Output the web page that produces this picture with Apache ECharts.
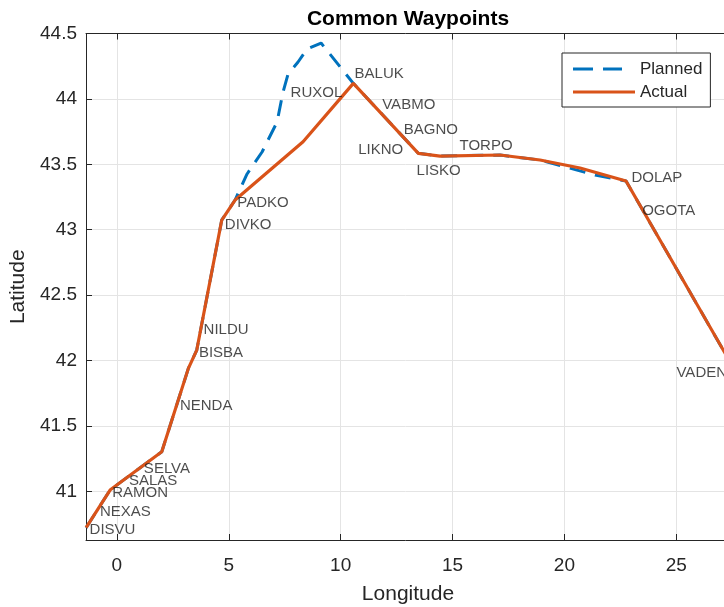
<!DOCTYPE html>
<html>
<head>
<meta charset="utf-8">
<title>Common Waypoints</title>
<script src="https://cdn.jsdelivr.net/npm/echarts@6/dist/echarts.min.js"></script>
<style>
html, body { margin: 0; padding: 0; background: #fff; }
#chart { width: 724px; height: 607px; }
</style>
</head>
<body>
<div id="chart"></div>
<script>
// planned route (lon, lat)
const plannedLon = [-1.376, -0.304, 2.006, 3.195, 3.570, 4.687, 5.282, 5.818, 6.488, 7.158, 7.426, 7.650, 8.097, 8.499, 9.125, 10.567, 13.472, 14.441, 17.122, 18.910, 21.370, 22.753, 27.40];
const plannedLat = [40.722, 41.010, 41.303, 41.940, 42.080, 43.074, 43.227, 43.426, 43.594, 43.823, 44.053, 44.190, 44.282, 44.381, 44.427, 44.119, 43.584, 43.563, 43.571, 43.533, 43.418, 43.372, 41.990];

// actual flown track
const actualLon = [-1.376, -0.304, 2.006, 3.195, 3.570, 4.687, 5.282, 8.320, 10.567, 13.472, 14.441, 17.122, 18.910, 20.697, 22.753, 27.40];
const actualLat = [40.722, 41.010, 41.303, 41.940, 42.080, 43.074, 43.227, 43.673, 44.119, 43.584, 43.563, 43.571, 43.533, 43.472, 43.372, 41.990];

// waypoint label anchors
const wpName = ["DISVU", "NEXAS", "RAMON", "SALAS", "SELVA", "NENDA", "BISBA", "NILDU", "DIVKO", "PADKO", "RUXOL", "BALUK", "VABMO", "BAGNO", "LIKNO", "LISKO", "TORPO", "DOLAP", "OGOTA", "VADEN"];
const wpLon = [-1.242, -0.782, -0.228, 0.514, 1.184, 2.793, 3.642, 3.852, 4.803, 5.357, 7.739, 10.599, 11.836, 12.802, 10.764, 13.369, 15.290, 22.976, 23.454, 24.986];
const wpLat = [40.722, 40.862, 41.005, 41.099, 41.188, 41.667, 42.075, 42.246, 43.049, 43.218, 44.063, 44.206, 43.966, 43.775, 43.622, 43.469, 43.653, 43.413, 43.156, 41.920];

const xTicks = [0, 5, 10, 15, 20, 25];
const yTicks = [41, 41.5, 42, 42.5, 43, 43.5, 44, 44.5];

const font = "'Liberation Sans', Arial, Helvetica, sans-serif";
const axisColor = "#262626";

const zip = (a, b) => a.map((v, i) => [v, b[i]]);

const myChart = echarts.init(document.getElementById("chart"));

const baseX = {
  type: "value",
  min: -1.38,
  max: 27.4,
  axisLine: { show: true, onZero: false, lineStyle: { color: axisColor, width: 1 } },
  axisTick: { show: true, inside: true, length: 6, customValues: xTicks, lineStyle: { color: axisColor } }
};

const chartOption = {
  animation: false,
  backgroundColor: "#fff",
  title: {
    text: "Common Waypoints",
    left: 408,
    top: 9,
    padding: 0,
    textAlign: "center",
    textStyle: { fontFamily: font, fontSize: 21, fontWeight: "bold", color: "#000" }
  },
  legend: {
    orient: "vertical",
    left: 562,
    top: 53,
    padding: [6, 8, 5, 11],
    itemWidth: 62,
    itemHeight: 3,
    itemGap: 3,
    borderColor: "#262626",
    borderWidth: 1,
    backgroundColor: "#fff",
    textStyle: { fontFamily: font, fontSize: 17, lineHeight: 20, color: axisColor },
    data: [
      { name: "Planned", icon: "path://M0,0H20V3H0Z M30,0H49V3H30Z M61.9,1.4H62V1.6H61.9Z" },
      { name: "Actual", icon: "rect" }
    ]
  },
  grid: { left: 86, right: -6, top: 33.5, bottom: 67, outerBoundsMode: "none" },
  xAxis: [
    Object.assign({}, baseX, {
      position: "bottom",
      name: "Longitude",
      nameLocation: "middle",
      nameGap: 44,
      nameTextStyle: { fontFamily: font, fontSize: 21, color: axisColor },
      axisLabel: { customValues: xTicks, margin: 16, fontFamily: font, fontSize: 19, color: axisColor },
      splitLine: { show: true, lineStyle: { color: "#e4e4e4", width: 1 } }
    }),
    Object.assign({}, baseX, {
      position: "top",
      axisLabel: { show: false },
      splitLine: { show: false }
    })
  ],
  yAxis: {
    type: "value",
    min: 40.628,
    max: 44.5,
    name: "Latitude",
    nameLocation: "middle",
    nameGap: 48,
    nameTextStyle: { fontFamily: font, fontSize: 21, color: axisColor },
    axisLine: { show: true, onZero: false, lineStyle: { color: axisColor, width: 1 } },
    axisTick: { show: true, inside: true, length: 6, customValues: yTicks, lineStyle: { color: axisColor } },
    axisLabel: { customValues: yTicks, margin: 9, fontFamily: font, fontSize: 19, color: axisColor },
    splitLine: { show: true, lineStyle: { color: "#e4e4e4", width: 1 } }
  },
  series: [
    {
      name: "Planned",
      type: "line",
      data: zip(plannedLon, plannedLat),
      showSymbol: false,
      symbol: "none",
      color: "#0072BD",
      lineStyle: { color: "#0072BD", width: 3, type: [16, 10] },
      z: 2
    },
    {
      name: "Actual",
      type: "line",
      data: zip(actualLon, actualLat),
      showSymbol: false,
      symbol: "none",
      color: "#D95319",
      lineStyle: { color: "#D95319", width: 3.2 },
      z: 3
    },
    {
      name: "waypoints",
      type: "scatter",
      data: zip(wpLon, wpLat),
      symbolSize: 1,
      itemStyle: { color: "rgba(0,0,0,0)" },
      silent: true,
      z: 5,
      label: {
        show: true,
        position: "right",
        distance: 0,
        offset: [0, 2],
        formatter: (p) => wpName[p.dataIndex],
        fontFamily: font,
        fontSize: 15,
        color: "#1e1e1e"
      }
    }
  ]
};

myChart.setOption(chartOption);
</script>
</body>
</html>
